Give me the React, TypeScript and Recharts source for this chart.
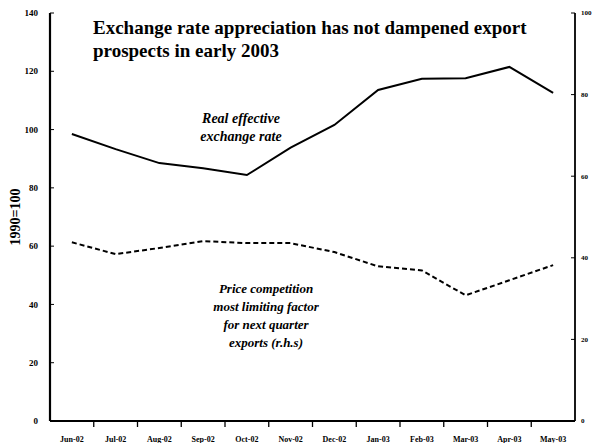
import { LineChart, Line, XAxis, YAxis } from "recharts";

const months = [
  "Jun-02", "Jul-02", "Aug-02", "Sep-02", "Oct-02", "Nov-02",
  "Dec-02", "Jan-03", "Feb-03", "Mar-03", "Apr-03", "May-03",
];
// real effective exchange rate, 1990=100 (left axis)
const reer = [98.5, 93.3, 88.5, 86.7, 84.4, 93.8, 101.6, 113.6, 117.4, 117.6, 121.5, 112.6];
// price competition most limiting factor, % (right axis)
const priceComp = [43.8, 40.9, 42.4, 44.1, 43.6, 43.6, 41.4, 37.9, 36.9, 30.8, 34.5, 38.2];

const leftTicks = [0, 20, 40, 60, 80, 100, 120, 140];
const rightTicks = [0, 20, 40, 60, 80, 100];
const monthTicks = months.map((_, i) => i);

const data = months.map((m, i) => ({ idx: i, month: m, reer: reer[i], price: priceComp[i] }));

const serif = "'Liberation Serif', 'Times New Roman', serif";
const tickStyle = { fontSize: 9, fontWeight: 700, fill: "#000", fontFamily: serif };

const PLOT_W = 525;
const HALF_BAND = PLOT_W / months.length / 2;

// month label plus a small inward tick at the right edge of its band
// eslint-disable-next-line @typescript-eslint/no-explicit-any
function MonthTick(props: any) {
  const { x, y, payload, index } = props;
  const axisY = y - 9;
  return (
    <g>
      <text x={x} y={y} dy={6} textAnchor="middle" fontSize={8} fontWeight={700} fill="#000" fontFamily={serif}>
        {months[payload.value] ?? ""}
      </text>
      {index < months.length - 1 && (
        <line x1={x + HALF_BAND} x2={x + HALF_BAND} y1={axisY} y2={axisY - 5} stroke="#000" strokeWidth={1.3} />
      )}
    </g>
  );
}

export default function App() {
  return (
    <div style={{ position: "absolute", left: 0, top: 0, width: 592, height: 443, background: "#fff" }}>
      <LineChart width={592} height={443} data={data} margin={{ top: 13, right: 0, bottom: 0, left: 0 }}>
        <XAxis
          dataKey="idx"
          type="number"
          domain={[-0.5, 11.5]}
          ticks={monthTicks}
          interval={0}
          height={22}
          tickLine={false}
          tickMargin={9}
          axisLine={{ stroke: "#000", strokeWidth: 2 }}
          tick={<MonthTick />}
        />
        <XAxis
          xAxisId="top"
          orientation="top"
          dataKey="idx"
          type="number"
          domain={[-0.5, 11.5]}
          height={0}
          tick={false}
          tickLine={false}
          axisLine={{ stroke: "#000", strokeWidth: 1.2 }}
        />
        <YAxis
          yAxisId="left"
          domain={[0, 140]}
          ticks={leftTicks}
          width={50}
          tickSize={-4}
          tickMargin={16}
          tickLine={{ stroke: "#000" }}
          axisLine={{ stroke: "#000", strokeWidth: 2.2 }}
          tick={tickStyle}
          label={{
            value: "1990=100",
            angle: -90,
            position: "center",
            dx: -10,
            fill: "#000",
            style: { fontSize: 14, fontWeight: 700, fill: "#000", fontFamily: serif },
          }}
        />
        <YAxis
          yAxisId="right"
          orientation="right"
          domain={[0, 100]}
          ticks={rightTicks}
          width={17}
          tickSize={-4}
          tickMargin={10}
          tickLine={{ stroke: "#000" }}
          axisLine={{ stroke: "#000", strokeWidth: 1.8 }}
          tick={{ ...tickStyle, fontSize: 7 }}
        />
        <Line
          yAxisId="left"
          dataKey="reer"
          stroke="#000"
          strokeWidth={2}
          dot={false}
          isAnimationActive={false}
        />
        <Line
          yAxisId="right"
          dataKey="price"
          stroke="#000"
          strokeWidth={2}
          strokeDasharray="5 3"
          dot={false}
          isAnimationActive={false}
        />
      </LineChart>
      <div
        style={{
          position: "absolute",
          left: 93,
          top: 16,
          fontFamily: serif,
          fontWeight: 700,
          fontSize: 19,
          lineHeight: "23px",
          color: "#000",
          whiteSpace: "nowrap",
        }}
      >
        Exchange rate appreciation has not dampened export
        <br />
        prospects in early 2003
      </div>
      <div
        style={{
          position: "absolute",
          left: 166,
          top: 110,
          width: 150,
          textAlign: "center",
          fontFamily: serif,
          fontWeight: 700,
          fontStyle: "italic",
          fontSize: 14,
          lineHeight: "18px",
          color: "#000",
        }}
      >
        Real effective
        <br />
        exchange rate
      </div>
      <div
        style={{
          position: "absolute",
          left: 186,
          top: 280,
          width: 160,
          textAlign: "center",
          fontFamily: serif,
          fontWeight: 700,
          fontStyle: "italic",
          fontSize: 13,
          lineHeight: "18px",
          color: "#000",
        }}
      >
        Price competition
        <br />
        most limiting factor
        <br />
        for next quarter
        <br />
        exports (r.h.s)
      </div>
    </div>
  );
}
